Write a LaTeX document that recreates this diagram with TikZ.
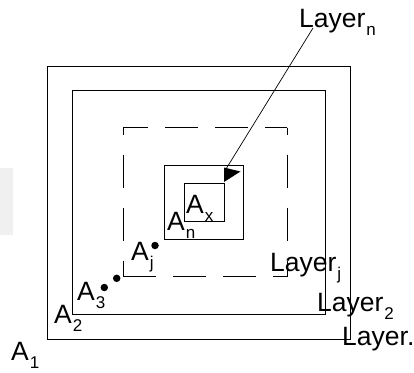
\documentclass[tikz,border=0pt]{standalone}
\usepackage{fontspec}
\setmainfont{Liberation Sans}
\newcommand\sbs[1]{\kern1pt\raisebox{-8.5pt}{\fontsize{17}{17}\selectfont #1}}
\begin{document}
\begin{tikzpicture}[x=1pt,y=-1pt,
  lbl/.style={inner sep=0pt, anchor=base west, font=\fontsize{26.5}{26.5}\selectfont},
  box/.style={draw, line width=1pt},
  dashh/.style={line width=1pt, dash pattern=on 33pt off 17pt},
  dashv/.style={line width=1pt, dash pattern=on 33pt off 20pt, dash phase=26pt},
  dot/.style={circle, fill, inner sep=0pt, minimum size=7.5pt},
  arrowline/.style={line width=0.7pt}]
\useasboundingbox (0,0) rectangle (414,372);
\fill[black!6] (0,168) rectangle (13,235);
% rectangles
\draw[box] (47.7,66) rectangle (350,339);
\draw[box] (72.7,90) rectangle (325,314);
\draw[dashh, dash phase=8pt] (123.3,127.7) -- (287.3,127.7);
\draw[dashh] (123.3,276.7) -- (287.3,276.7);
\draw[dashv] (123.3,127.7) -- (123.3,276.7);
\draw[dashv] (287.3,127.7) -- (287.3,276.7);
\draw[box] (164.3,165) rectangle (243.3,239);
\draw[box] (184.3,183.3) rectangle (224,221.7);
% labels
\node[lbl] (Ln) at (299,27) {Layer\sbs{n}};
\node[lbl] (Lj) at (270,271) {Layer\sbs{j}};
\node[lbl] (L2) at (317,311) {Layer\sbs{2}};
\node[lbl] (L1) at (342,345) {Layer.};
\node[lbl] (A1) at (11,360) {A\sbs{1}};
\node[lbl] (A2) at (54,323) {A\sbs{2}};
\node[lbl] (A3) at (77,300) {A\sbs{3}};
\node[lbl] (Aj) at (131,260) {A\sbs{j}};
\node[lbl] (An) at (167,230) {A\sbs{n}};
\node[lbl] (Ax) at (186,213) {A\sbs{x}};
% dots
\node[dot] (d1) at (104.3,287.5) {};
\node[dot] (d2) at (116.7,278.3) {};
\node[dot] (d3) at (155,245.5) {};
% arrow
\coordinate (from) at (313,28);
\coordinate (tip) at (226,169);
\draw[arrowline] (from) -- (tip);
\fill (224,167.5) -- (240.5,171.5) -- (224,182) -- cycle;
\end{tikzpicture}
\end{document}
